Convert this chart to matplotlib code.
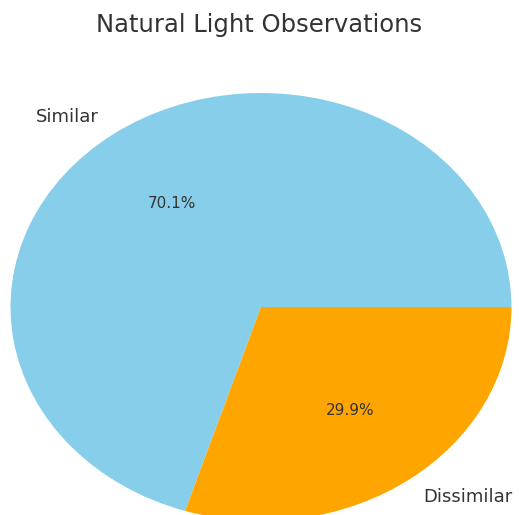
import matplotlib
matplotlib.use("Agg")
import matplotlib.pyplot as plt

plt.rcParams["font.family"] = ["DejaVu Sans"]

labels = ["Similar", "Dissimilar"]
values = [70.1, 29.9]
colors = ["#87CEEB", "#FFA500"]
title = "Natural Light Observations"

fig = plt.figure(figsize=(5.19, 5.15), dpi=100)
ax = fig.add_axes([0, 0, 1, 1])
wedges, texts, autotexts = ax.pie(values, labels=labels, colors=colors,
                                  autopct="%1.1f%%", startangle=0,
                                  textprops={"color": "#333333", "fontsize": 13})
for t in autotexts:
    t.set_fontsize(11)
ax.set_aspect("auto")
ax.set_xlim(-1.042, 1.030)
ax.set_ylim(-0.972, 1.4346)
fig.text(0.5, 1 - 32 / 515, title, ha="center", va="baseline",
         fontsize=17.5, color="#333333")
fig.savefig("out.png", dpi=100)
